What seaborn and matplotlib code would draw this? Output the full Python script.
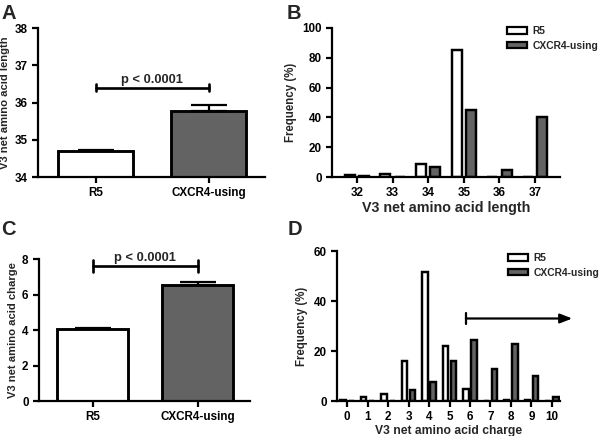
import seaborn as sns
import numpy as np
import pandas as pd
import matplotlib
matplotlib.use("Agg")
import matplotlib.pyplot as plt

####### data #######
groups = ["R5", "CXCR4-using"]

# A: mean V3 length (+ SEM)
length_mean = [34.70, 35.78]
length_sem = [0.03, 0.14]

# C: mean V3 charge (+ SEM)
charge_mean = [4.08, 6.55]
charge_sem = [0.04, 0.17]

# B: frequency (%) by V3 length
length_bins = ["32", "33", "34", "35", "36", "37"]
length_r5 = [1.5, 2.0, 8.5, 85.0, 0.0, 0.0]
length_x4 = [1.0, 0.0, 7.0, 45.0, 4.5, 40.5]

# D: frequency (%) by V3 charge
charge_bins = ["0", "1", "2", "3", "4", "5", "6", "7", "8", "9", "10"]
charge_r5 = [0.3, 1.5, 3.0, 16.0, 51.5, 22.0, 5.0, 0.0, 0.3, 0.3, 0.0]
charge_x4 = [0.0, 0.0, 0.0, 4.5, 7.5, 16.0, 24.5, 13.0, 23.0, 10.0, 1.5]

WHITE = "white"
GREY = "#636363"
LW = 1.6

sns.set_style("ticks")
plt.rcParams['font.family'] = ['Liberation Sans', 'DejaVu Sans']
plt.rcParams['font.weight'] = 'bold'
plt.rcParams['axes.labelweight'] = 'bold'
plt.rcParams['font.size'] = 8
plt.rcParams['axes.linewidth'] = LW
plt.rcParams['xtick.major.width'] = LW
plt.rcParams['ytick.major.width'] = LW
plt.rcParams['xtick.major.size'] = 4
plt.rcParams['ytick.major.size'] = 4
plt.rcParams['xtick.labelsize'] = 8.4
plt.rcParams['ytick.labelsize'] = 8.4
plt.rcParams['axes.labelsize'] = 8.1

W, H = 600, 436
fig = plt.figure(figsize=(6, 4.36), dpi=100)


def px_axes(left, top, right, bottom):
    return fig.add_axes([left / W, 1 - bottom / H, (right - left) / W, (bottom - top) / H])


def style(ax):
    sns.despine(ax=ax)
    for s in ["left", "bottom"]:
        ax.spines[s].set_color("black")
    ax.tick_params(colors="black", direction="out")


def mean_panel(ax, means, sems, ylim, yticks, ylabel, width, bracket_y, tick_h, text_y):
    df = pd.DataFrame({"group": groups, "value": means})
    sns.barplot(data=df, x="group", y="value", hue="group", palette=[WHITE, GREY],
                width=width, edgecolor="black", linewidth=LW * 1.3, legend=False, ax=ax)
    ax.errorbar(x=[0, 1], y=means, yerr=[[0, 0], sems], fmt="none", ecolor="black",
                elinewidth=LW, capsize=13, capthick=LW, zorder=1)
    ax.set_ylim(*ylim)
    ax.set_xlim(-0.51, 1.5)
    ax.set_yticks(yticks)
    ax.set_xlabel("")
    ax.set_ylabel(ylabel, labelpad=3)
    ax.plot([0, 1], [bracket_y, bracket_y], color="black", lw=LW * 1.2, clip_on=False)
    for xx in [0, 1]:
        ax.plot([xx, xx], [bracket_y - tick_h, bracket_y + tick_h], color="black",
                lw=LW * 1.2, clip_on=False)
    ax.text(0.5, text_y, "p < 0.0001", ha="center", va="bottom", fontsize=9.3, fontweight="bold")
    style(ax)


def freq_panel(ax, bins, r5, x4, ylim, yticks, xlabel, xlabel_size, gap, legend_xy):
    df = pd.DataFrame({
        "bin": bins * 2,
        "freq": r5 + x4,
        "tropism": ["R5"] * len(bins) + ["CXCR4-using"] * len(bins),
    })
    sns.barplot(data=df, x="bin", y="freq", hue="tropism", order=bins,
                hue_order=groups, palette=[WHITE, GREY], width=0.8, gap=gap,
                edgecolor="black", linewidth=LW * 1.1, ax=ax)
    ax.set_ylim(*ylim)
    ax.set_yticks(yticks)
    ax.set_xlabel(xlabel, fontsize=xlabel_size, labelpad=1)
    ax.set_ylabel("Frequency (%)", labelpad=4, fontsize=8.3)
    leg = ax.legend(loc="upper left", bbox_to_anchor=(legend_xy[0] / W, 1 - legend_xy[1] / H),
                    bbox_transform=fig.transFigure, frameon=False, borderpad=0,
                    borderaxespad=0, handlelength=1.9, handleheight=0.6, labelspacing=0.45,
                    handletextpad=0.55, fontsize=7.4)
    for h in leg.legend_handles:
        h.set_linewidth(LW)
    style(ax)


# A
axA = px_axes(38, 28, 265, 177)
mean_panel(axA, length_mean, length_sem, (34, 38), [34, 35, 36, 37, 38],
           "V3 net amino acid length", 0.67, 36.4, 0.09, 36.43)

# B
axB = px_axes(332, 28, 560, 177)
freq_panel(axB, length_bins, length_r5, length_x4, (0, 100), [0, 20, 40, 60, 80, 100],
           "V3 net amino acid length", 10.3, 0.3, (507, 26))
axB.set_xlim(-0.7, 5.7)

# C
axC = px_axes(39, 259, 250, 401)
mean_panel(axC, charge_mean, charge_sem, (0, 8), [0, 2, 4, 6, 8],
           "V3 net amino acid charge", 0.68, 7.6, 0.35, 7.72)

# D
axD = px_axes(337, 251, 560, 401)
freq_panel(axD, charge_bins, charge_r5, charge_x4, (0, 60), [0, 20, 40, 60],
           "V3 net amino acid charge", 8.7, 0.35, (508, 253))
axD.set_xlim(-0.5, 10.4)
arrow_start, arrow_end, arrow_y = 5.8, 11.0, 33.0
axD.annotate("", xy=(arrow_end, arrow_y), xytext=(arrow_start, arrow_y),
             annotation_clip=False,
             arrowprops=dict(arrowstyle="-|>,head_length=0.9,head_width=0.35",
                             color="black", lw=LW, shrinkA=0, shrinkB=0))
axD.plot([arrow_start, arrow_start], [arrow_y - 2.2, arrow_y + 2.2], color="black",
         lw=LW, clip_on=False)

# panel letters
for letter, (x, y) in {"A": (1, 4), "B": (287, 4), "C": (1, 220), "D": (288, 220)}.items():
    fig.text(x / W, 1 - y / H, letter, fontsize=14.5, fontweight="bold", va="top", ha="left")

fig.savefig("out.png", dpi=100)
